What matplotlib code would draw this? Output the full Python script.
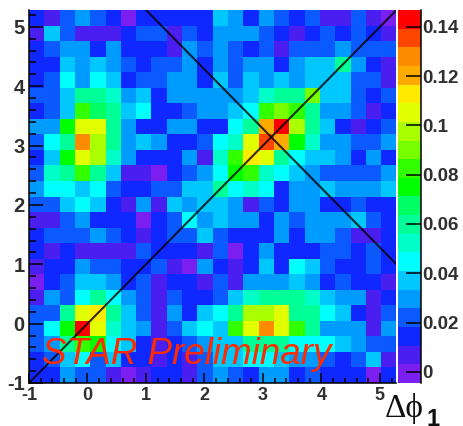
import numpy as np
import matplotlib
matplotlib.use('Agg')
import matplotlib.pyplot as plt
from matplotlib.colors import ListedColormap, BoundaryNorm

plt.rcParams['font.family'] = 'Liberation Sans'
plt.rcParams['axes.unicode_minus'] = False

# bin contents, x10^-3, row 0 is the bottom row
z_rows = [
    [14, 14, 30, 22, 22, 7, -1, 7, 14, 14, 7, 22, 30, 22, 14, 30, 30, 14, 22, 14, 14, 14, -1, 14],
    [14, 22, 37, 45, 22, 37, 14, 14, 7, 14, 7, 22, 37, 37, 45, 45, 37, 30, 30, 22, 14, 22, 37, 7],
    [22, 30, 60, 83, 75, 45, 37, 14, 7, 14, 22, 30, 37, 37, 60, 60, 60, 45, 45, 45, 37, 30, 22, 22],
    [22, 45, 75, 143, 105, 52, 37, 30, 7, 22, 37, 45, 37, 83, 105, 128, 105, 83, 60, 30, 30, 30, 7, 30],
    [22, 22, 60, 105, 113, 60, 37, 22, 7, 30, 14, 37, 45, 60, 98, 98, 105, 60, 60, 45, 37, 14, 7, 22],
    [7, 30, 22, 45, 60, 45, 30, 22, 7, 22, 14, 14, 22, 37, 52, 60, 60, 60, 52, 37, 30, 30, 7, 14],
    [-1, 14, 22, 37, 37, 30, 14, 22, 7, 14, 14, 7, 22, 7, 30, 30, 30, 37, 30, 14, 22, 14, 14, 7],
    [7, 14, 14, 30, 22, 22, 14, 14, 22, 7, -1, 30, 14, 7, 14, 37, 14, 45, 37, 22, 14, 14, 22, 14],
    [14, 7, 14, 7, 7, 7, 7, 22, 14, 14, 14, 7, 22, -1, 14, 30, 14, 14, 14, 22, 22, 14, 22, 14],
    [14, 22, 22, 22, 30, 22, 14, 7, 14, 22, 22, 37, 22, 14, 14, 14, 30, 14, 30, 30, 22, 7, 7, 14],
    [7, 7, 22, 30, 14, 14, 14, -1, 14, 22, 45, 30, 37, 30, 30, 14, 30, 22, 30, 30, 30, 37, 22, 14],
    [22, 22, 37, 45, 37, 14, 7, 30, 7, 37, 30, 37, 37, 30, 7, 22, 14, 30, 30, 14, 14, 22, 14, 14],
    [30, 45, 45, 37, 45, 22, 14, 14, 22, 22, 37, 37, 60, 45, 52, 45, 14, 30, 30, 37, 30, 30, 30, 37],
    [22, 52, 60, 83, 60, 37, 7, 7, -1, 14, 22, 30, 45, 75, 83, 52, 45, 37, 30, 22, 22, 22, 22, 30],
    [14, 37, 75, 105, 98, 52, 30, 14, 14, 14, 30, 7, 52, 83, 113, 105, 60, 45, 37, 37, 30, 14, 30, 14],
    [22, 45, 60, 128, 98, 60, 30, 37, 30, 14, 14, 22, 45, 52, 105, 136, 120, 75, 52, 30, 30, 22, 22, 30],
    [30, 30, 75, 105, 105, 60, 30, 14, 14, 30, 30, 14, 14, 45, 60, 120, 143, 98, 60, 37, 14, 7, 14, 22],
    [14, 22, 37, 83, 67, 60, 37, 45, 14, 14, 22, 30, 30, 37, 45, 83, 90, 83, 60, 30, 30, 22, 7, 14],
    [22, 22, 37, 60, 60, 52, 30, 37, 14, 30, 30, 30, 30, 30, 37, 52, 60, 60, 90, 37, 37, 22, 14, 22],
    [14, 22, 45, 30, 45, 37, 14, 22, 22, 30, 30, 14, 37, 22, 37, 30, 37, 30, 37, 37, 37, 22, 22, 7],
    [14, 14, 37, 30, 37, 30, 22, 14, 22, 22, 30, 14, 30, 22, 30, 30, 14, 30, 37, 37, 60, 30, 14, 7],
    [14, 22, 30, 30, 14, 30, 14, 14, 14, 7, 30, 22, 30, 22, 14, 22, 7, 22, 22, 22, 30, 22, 22, 22],
    [7, 37, 22, 7, 7, 7, 14, 22, 22, 7, 22, 14, 30, 30, 30, 22, 14, 7, 14, 22, 14, 22, 14, 7],
    [14, 7, 22, 30, 22, 14, -1, 14, 14, 14, 14, 14, 37, 30, 14, 30, 22, 14, 22, 7, 7, 22, 7, -1],
]

palette = ['#7a1ff0', '#4b1ef0', '#0f28ff', '#0a5aff', '#009bff', '#00c8ff', '#00ffff', '#00ffc8',
           '#00ff96', '#00ff64', '#00ff00', '#32ff00', '#78ff00', '#aaff00', '#e1ff00', '#ffeb00',
           '#ffaa00', '#ff8c00', '#ff4600', '#ff0000']
xticks = [-1, 0, 1, 2, 3, 4, 5]
yticks = [-1, 0, 1, 2, 3, 4, 5]
cticks = [0, 0.02, 0.04, 0.06, 0.08, 0.1, 0.12, 0.14]
ctick_labels = ['0', '0.02', '0.04', '0.06', '0.08', '0.1', '0.12', '0.14']

W, H = 464, 426
fig = plt.figure(figsize=(W/100, H/100), dpi=100)
ax = fig.add_axes([29/W, 1-383/H, 367.5/W, 373/H])
cax = fig.add_axes([398/W, 1-383/H, 23/W, 373/H])

txt = '#303030'

z = np.array(z_rows) / 1000
lo, hi = -1, 2*np.pi - 1
edges = np.linspace(lo, hi, 25)
levels = np.linspace(-0.0045, 0.1468, 21)
cmap = ListedColormap(palette)
norm = BoundaryNorm(levels, cmap.N)

ax.pcolormesh(edges, edges, z, cmap=cmap, norm=norm, rasterized=True)
ax.plot([lo, hi], [lo, hi], color='k', lw=1.5, alpha=0.8)
ax.plot([1, hi], [hi, 1], color='k', lw=1.5, alpha=0.8)
ax.set_xlim(lo, hi)
ax.set_ylim(lo, hi)

ax.set_xticks(xticks)
ax.set_yticks(yticks)
ax.set_xticks(np.arange(-1, 5.3, 0.2), minor=True)
ax.set_yticks(np.arange(-1, 5.3, 0.2), minor=True)
ax.tick_params(axis='x', which='major', direction='in', length=7, width=1.1, pad=3, labelsize=13, labelcolor=txt)
ax.tick_params(axis='x', which='minor', direction='in', length=3.5, width=1.1)
ax.tick_params(axis='y', which='major', direction='in', length=10, width=1.1, pad=3, labelsize=14.5, labelcolor=txt)
ax.tick_params(axis='y', which='minor', direction='in', length=5, width=1.1)
ax.tick_params(top=False, right=False, which='both')
for lab in ax.get_xticklabels() + ax.get_yticklabels():
    lab.set_fontweight('bold')
for s in ['top', 'right']:
    ax.spines[s].set_visible(False)
for s in ['left', 'bottom']:
    ax.spines[s].set_linewidth(1.1)

ax.text(42/W, 1-364/H, 'STAR Preliminary', transform=fig.transFigure, color='#ff2a00',
        style='italic', fontsize=26.5, ha='left', va='baseline')

cax.pcolormesh([0, 1], levels, np.array(levels[:-1] + np.diff(levels)/2).reshape(-1, 1), cmap=cmap, norm=norm)
cax.set_xticks([])
cax.yaxis.tick_right()
cax.set_yticks(cticks)
cax.set_yticklabels(ctick_labels, fontweight='bold', color=txt)
cax.tick_params(axis='y', direction='in', length=11, width=1.1, pad=1, labelsize=13.5)
for s in ['top', 'left', 'bottom']:
    cax.spines[s].set_visible(False)
cax.spines['right'].set_linewidth(1.1)

fig.text(385/W, 1-417/H, '\u0394\u03d5', family=['Liberation Serif', 'DejaVu Serif'], fontsize=24, color='#101010')
fig.text(427/W, 1-426/H, '1', fontweight='bold', fontsize=17, color='#101010')

fig.savefig('out.png', dpi=100)
